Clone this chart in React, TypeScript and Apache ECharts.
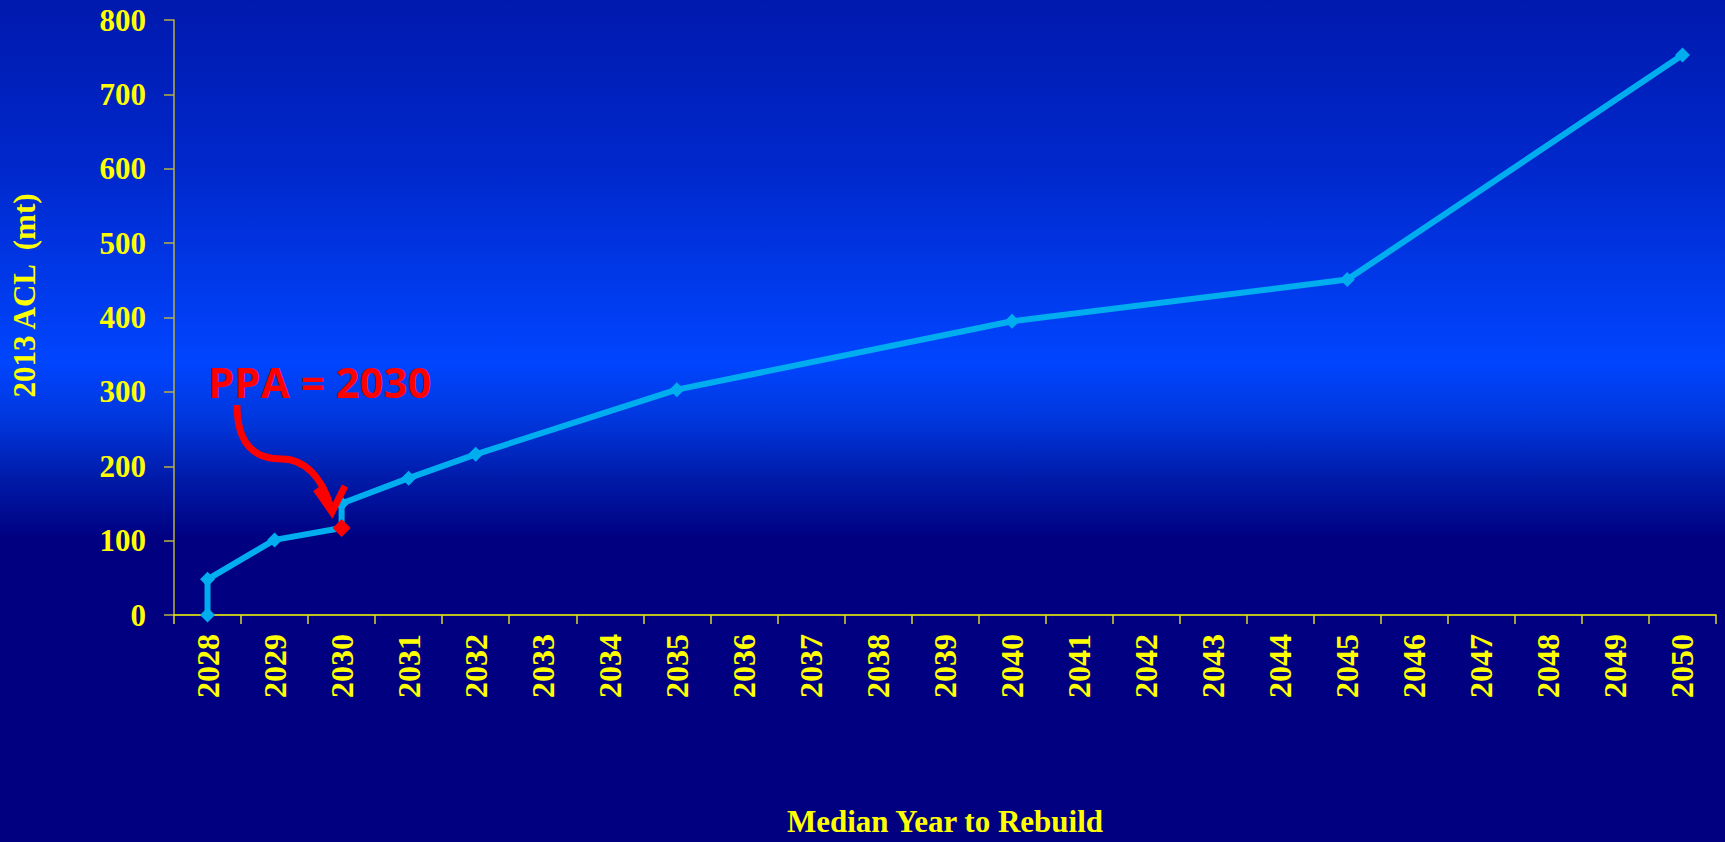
import React, { useEffect, useRef } from "react";
import * as echarts from "echarts";

const years = [
  "2028", "2029", "2030", "2031", "2032", "2033", "2034", "2035", "2036", "2037", "2038",
  "2039", "2040", "2041", "2042", "2043", "2044", "2045", "2046", "2047", "2048", "2049", "2050",
];
const pointYears = ["2028", "2028", "2029", "2030", "2030", "2031", "2032", "2035", "2040", "2045", "2050"];
const pointValues = [0, 48, 101, 117, 150, 184, 216, 303, 395, 451, 753];
const ppaIndex = 3;
const yTicks = { min: 0, max: 800, interval: 100 };

const YELLOW = "#ffff00";
const LINE = "#00aeef";
const SERIF = "'Liberation Serif', 'Times New Roman', serif";

export default function App() {
  const ref = useRef<HTMLDivElement>(null);

  useEffect(() => {
    document.body.style.margin = "0";
    const chart = echarts.init(ref.current!, null, { renderer: "svg" });
    const data = pointYears.map((y, i) =>
      i === ppaIndex
        ? { value: [y, pointValues[i]], itemStyle: { color: "#ff0000" }, symbolSize: 18 }
        : { value: [y, pointValues[i]] }
    );
    chart.setOption({
      animation: false,
      backgroundColor: new echarts.graphic.LinearGradient(0, 0, 0, 1, [
        { offset: 0, color: "#0019ad" },
        { offset: 0.2, color: "#0028cc" },
        { offset: 0.43, color: "#0045ff" },
        { offset: 0.5, color: "#0036dc" },
        { offset: 0.57, color: "#001aa8" },
        { offset: 0.64, color: "#000080" },
        { offset: 1, color: "#000080" },
      ]),
      grid: { left: 174, right: 9, top: 20, bottom: 226, containLabel: false },
      xAxis: {
        type: "category",
        data: years,
        boundaryGap: true,
        name: "Median Year to Rebuild",
        nameLocation: "middle",
        nameGap: 191,
        nameTextStyle: { color: YELLOW, fontFamily: SERIF, fontWeight: "bold", fontSize: 31 },
        axisLine: { lineStyle: { color: YELLOW, width: 1.5 } },
        axisTick: { show: true, length: 9, inside: false, lineStyle: { color: "#d8d830", width: 1.5 } },
        axisLabel: {
          rotate: 90,
          margin: 19,
          color: YELLOW,
          fontFamily: SERIF,
          fontWeight: "bold",
          fontSize: 32,
          interval: 0,
        },
        splitLine: { show: false },
      },
      yAxis: {
        type: "value",
        min: yTicks.min,
        max: yTicks.max,
        interval: yTicks.interval,
        name: "2013 ACL  (mt)",
        nameLocation: "middle",
        nameGap: 134,
        nameTextStyle: {
          color: YELLOW,
          fontFamily: SERIF,
          fontWeight: "bold",
          fontSize: 31,
          padding: [0, 0, 0, 44],
        },
        axisLine: { show: true, lineStyle: { color: "#b8b040", width: 1.5 } },
        axisTick: { show: true, length: 10, lineStyle: { color: "#b8b040", width: 1.5 } },
        axisLabel: {
          margin: 28,
          color: YELLOW,
          fontFamily: SERIF,
          fontWeight: "bold",
          fontSize: 31,
        },
        splitLine: { show: false },
      },
      series: [
        {
          type: "line",
          data,
          symbol: "diamond",
          symbolSize: 15,
          lineStyle: { color: LINE, width: 6 },
          itemStyle: { color: LINE },
          z: 3,
        },
      ],
      graphic: [
        {
          type: "text",
          left: 208,
          top: 360,
          style: {
            text: "PPA = 2030",
            fill: "#ff0000",
            font: "bold 42px 'Open Sans', 'Noto Sans', sans-serif",
          },
          z: 10,
        },
        {
          type: "bezierCurve",
          shape: { x1: 237, y1: 405, cpx1: 237, cpy1: 445, cpx2: 255, cpy2: 459, x2: 282, y2: 459 },
          style: { stroke: "#ff0000", lineWidth: 7, fill: "none" },
          z: 10,
        },
        {
          type: "bezierCurve",
          shape: { x1: 282, y1: 459, cpx1: 305, cpy1: 459, cpx2: 322, cpy2: 478, x2: 330, y2: 505 },
          style: { stroke: "#ff0000", lineWidth: 7, fill: "none" },
          z: 10,
        },
        {
          type: "polyline",
          shape: { points: [[316, 489], [332, 512], [345, 486]] },
          style: { stroke: "#ff0000", lineWidth: 7, fill: "none", lineJoin: "miter" },
          z: 10,
        },
      ],
    });
    return () => chart.dispose();
  }, []);

  return <div ref={ref} style={{ width: 1725, height: 842 }} />;
}
